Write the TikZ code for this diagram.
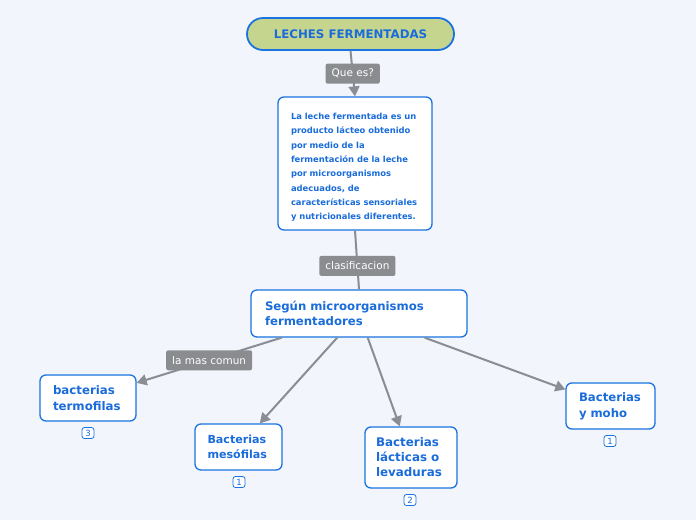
\documentclass[tikz,border=0pt]{standalone}
\usepackage{fontspec}
\setmainfont{DejaVu Sans}
\usetikzlibrary{arrows.meta}
\definecolor{bg}{HTML}{F2F5FC}
\definecolor{mblue}{HTML}{1A73E0}
\definecolor{tblue}{HTML}{1A6CDB}
\definecolor{rootfill}{HTML}{C5D58E}
\definecolor{edgegray}{HTML}{8A8E94}
\definecolor{lblgray}{HTML}{8A8C8F}
\tikzset{
  box/.style={draw=mblue, line width=1.3pt, fill=white, rounded corners=6pt, text=tblue, font=\bfseries, align=left, inner sep=0pt},
  conn/.style={draw=edgegray, line width=2pt},
  arr/.style={conn, -{Triangle[length=10pt,width=11pt]}},
  lbl/.style={fill=lblgray, text=white, rounded corners=2pt, font=\fontsize{10.5}{12}\selectfont, minimum height=20pt, inner xsep=6pt, inner ysep=0pt},
  badge/.style={draw=mblue, line width=0.8pt, fill=white, rounded corners=2.5pt, text=tblue, font=\fontsize{8.5}{9}\selectfont, minimum width=12pt, minimum height=11pt, inner sep=0pt}
}
\begin{document}
\begin{tikzpicture}[x=1pt,y=-1pt]
\fill[bg] (0,0) rectangle (696,520);
\useasboundingbox (0,0) rectangle (696,520);

\node[box, fill=rootfill, line width=1.8pt, rounded corners=16pt, minimum width=207pt, minimum height=32pt, align=center, font=\bfseries\fontsize{11.8}{13}\selectfont] (root) at (350.5,34) {LECHES FERMENTADAS};

\node[box, minimum width=154pt, minimum height=133pt, text width=128pt, font=\bfseries\fontsize{8.4}{14.3}\selectfont] (desc) at (355,163.5) {\rule{0pt}{14pt}La leche fermentada es un\\producto lácteo obtenido\\por medio de la\\fermentación de la leche\\por microorganismos\\adecuados, de\\características sensoriales\\y nutricionales diferentes.};

\node[box, minimum width=216pt, minimum height=47pt, text width=188pt, font=\bfseries\fontsize{11.7}{15}\selectfont] (seg) at (359,313.5) {Según microorganismos\\fermentadores};

\node[box, minimum width=96pt, minimum height=46pt, text width=70pt, font=\bfseries\fontsize{11.8}{16}\selectfont] (term) at (88,398) {bacterias\\termofilas};
\node[box, minimum width=87pt, minimum height=46pt, text width=62pt, font=\bfseries\fontsize{11.1}{15}\selectfont] (meso) at (238.5,447) {Bacterias\\mesófilas};
\node[box, minimum width=92pt, minimum height=61pt, text width=70pt, font=\bfseries\fontsize{11.9}{15}\selectfont] (lact) at (411,457.5) {Bacterias\\lácticas o\\levaduras};
\node[box, minimum width=89pt, minimum height=46pt, text width=63pt, font=\bfseries\fontsize{11.7}{16}\selectfont] (moho) at (610.5,406) {Bacterias\\y moho};

\node[badge] (b1) at (88,433) {3};
\node[badge] (b2) at (239,482) {1};
\node[badge] (b3) at (410,500) {2};
\node[badge] (b4) at (610,441) {1};

\draw[arr] (root.south) -- (desc.north) node[lbl, midway] (l1) {Que es?};
\draw[conn] (desc.south) -- (seg.north) node[lbl, pos=0.6] (l2) {clasificacion};
\draw[arr] (seg) -- (term) node[lbl, midway] (l3) {la mas comun};
\draw[arr] (seg) -- (meso);
\draw[arr] (seg) -- (lact);
\draw[arr] (seg) -- (moho);
\end{tikzpicture}
\end{document}
